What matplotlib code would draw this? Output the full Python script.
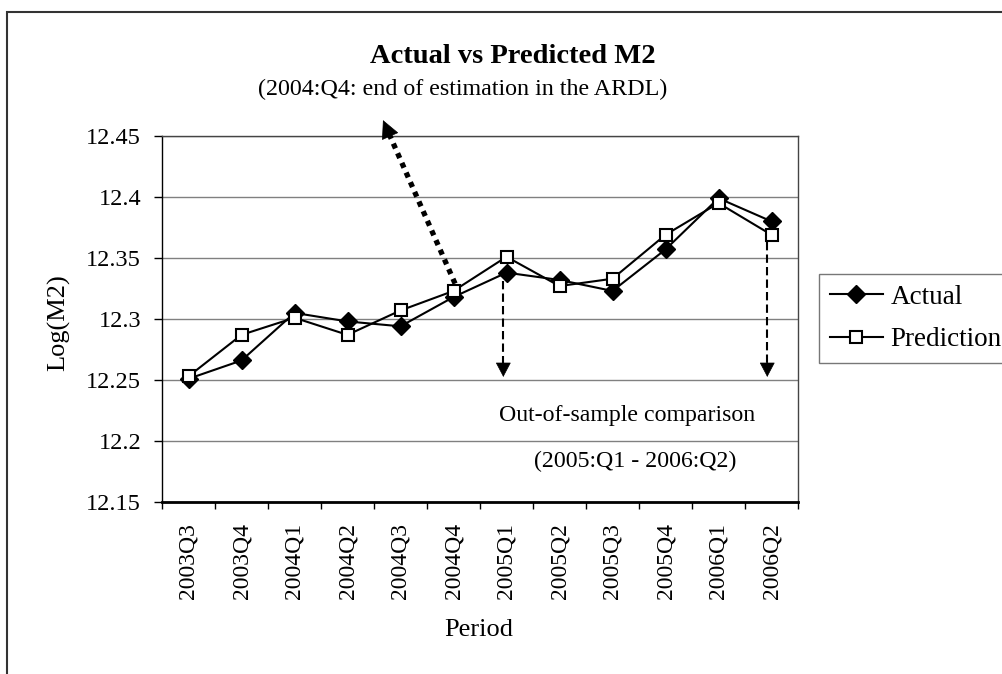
import matplotlib
matplotlib.use("Agg")
import matplotlib.pyplot as plt
import matplotlib.patches as patches
import numpy as np

plt.rcParams['font.family'] = ['Liberation Serif', 'DejaVu Serif']

periods = ['2003Q3', '2003Q4', '2004Q1', '2004Q2', '2004Q3', '2004Q4',
           '2005Q1', '2005Q2', '2005Q3', '2005Q4', '2006Q1', '2006Q2']
actual = [12.251, 12.266, 12.305, 12.298, 12.294, 12.318,
          12.338, 12.332, 12.323, 12.357, 12.399, 12.380]
prediction = [12.253, 12.287, 12.301, 12.287, 12.307, 12.323,
              12.351, 12.327, 12.333, 12.369, 12.395, 12.369]
yticks = [12.15, 12.2, 12.25, 12.3, 12.35, 12.4, 12.45]
ytick_labels = ['12.15', '12.2', '12.25', '12.3', '12.35', '12.4', '12.45']

W, H = 1002, 674
fig = plt.figure(figsize=(W / 100, H / 100), dpi=100)

# outer chart border (runs off the right and bottom edges)
fig.add_artist(patches.Rectangle((7 / W, -0.05), 1.1, 1 - 12 / H + 0.05,
                                 transform=fig.transFigure, fill=False,
                                 edgecolor='#333333', linewidth=1.5))

ax = fig.add_axes([162 / W, 1 - 502 / H, 636 / W, 366 / H])
x = np.arange(len(periods))

ax.plot(x, actual, color='black', lw=1.5, marker='D', ms=9,
        mfc='black', mec='black', label='Actual', zorder=4)
ax.plot(x, prediction, color='black', lw=1.5, marker='s', ms=8.5,
        mfc='white', mec='black', mew=1.5, label='Prediction', zorder=5)

ax.set_xlim(-0.5, len(periods) - 0.5)
ax.set_ylim(12.15, 12.45)
ax.set_yticks(yticks)
ax.set_yticklabels(ytick_labels)
ax.set_xticks(x)
ax.set_xticklabels(periods, rotation=90)
ax.set_xticks(np.arange(-0.5, len(periods), 1), minor=True)
ax.tick_params(axis='x', which='major', length=0, pad=15, labelsize=17)
ax.tick_params(axis='x', which='minor', length=5, width=1, direction='out')
ax.tick_params(axis='y', length=6, width=1, direction='out', pad=9, labelsize=17.5)
ax.yaxis.grid(True, color='#808080', lw=1)
ax.set_axisbelow(True)

ax.spines['left'].set_linewidth(1)
ax.spines['bottom'].set_linewidth(2)
for s in ['top', 'right']:
    ax.spines[s].set_color('#444444')
    ax.spines[s].set_linewidth(1)

ax.set_xlabel('Period', fontsize=19)
ax.xaxis.set_label_coords(0.498, -0.32)
ax.set_ylabel('Log(M2)', fontsize=19)
ax.yaxis.set_label_coords(-0.145, 0.49)

fig.text(513 / W, 1 - 63 / H, 'Actual vs Predicted M2', ha='center', va='baseline',
         fontsize=20.5, fontweight='bold')
fig.text(463 / W, 1 - 95 / H, '(2004:Q4: end of estimation in the ARDL)',
         ha='center', va='baseline', fontsize=17.3)


def arrow(tail, tip, ls, lw, hl, hw, back):
    # line part drawn with its own style, head drawn solid
    ax.plot([tail[0], tip[0] + back * (tail[0] - tip[0])],
            [tail[1], tip[1] + back * (tail[1] - tip[1])],
            color='black', lw=lw, ls=ls, clip_on=False, zorder=6,
            solid_capstyle='butt', dash_capstyle='butt')
    start = (tip[0] + 1.5 * back * (tail[0] - tip[0]),
             tip[1] + 1.5 * back * (tail[1] - tip[1]))
    ax.annotate('', xy=tip, xytext=start,
                arrowprops=dict(arrowstyle='-|>,head_length=%g,head_width=%g' % (hl, hw),
                                color='black', lw=0.5, shrinkA=0, shrinkB=0,
                                mutation_scale=10),
                annotation_clip=False, zorder=7)


# end of estimation arrow
arrow((5.03, 12.329), (3.67, 12.463), (0, (1, 1)), 3.8, 1.2, 0.6, 0.07)

# out-of-sample window arrows
arrow((5.94, 12.331), (5.94, 12.2525), (0, (4, 2)), 1.5, 0.95, 0.5, 0.12)
arrow((10.92, 12.363), (10.92, 12.2525), (0, (4, 2)), 1.5, 0.95, 0.5, 0.08)

ax.text(8.27, 12.2166, 'Out-of-sample comparison', ha='center', va='baseline',
        fontsize=17.2)
ax.text(8.42, 12.1787, '(2005:Q1 - 2006:Q2)', ha='center', va='baseline',
        fontsize=17.2)

leg = fig.legend(loc='upper left', bbox_to_anchor=(819 / W, 1 - 274 / H),
                 fontsize=19.5, frameon=True, fancybox=False, borderaxespad=0,
                 borderpad=0.4, handlelength=1.95, handletextpad=0.3,
                 labelspacing=0.65)
leg.get_frame().set_edgecolor('#555555')
leg.get_frame().set_linewidth(1)

plt.savefig('out.png', dpi=100)
